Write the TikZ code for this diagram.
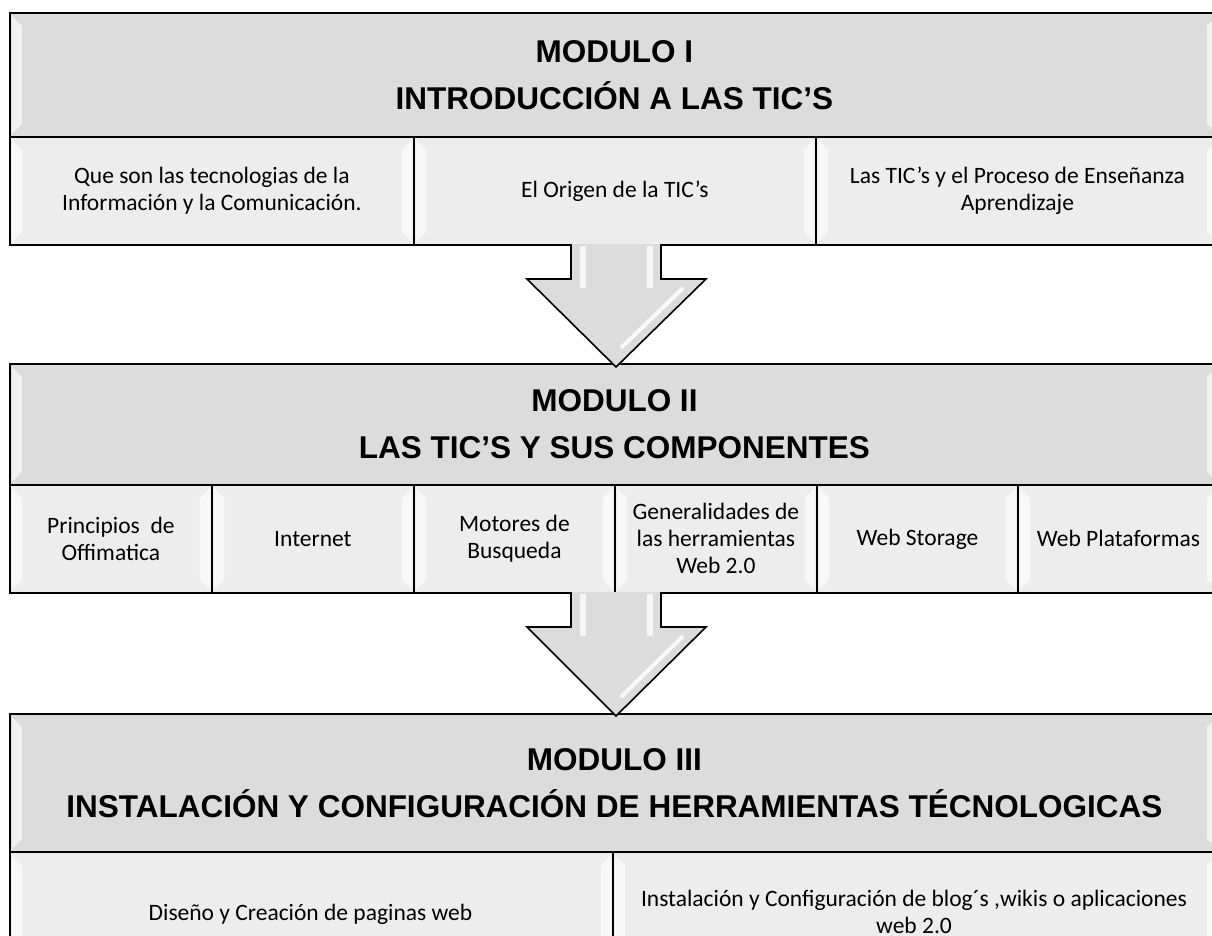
\documentclass[tikz,border=0pt]{standalone}
\usepackage{fontspec}
\setmainfont{Carlito}
\newfontfamily\hfont{Liberation Sans}
\usetikzlibrary{calc}
\definecolor{hdrgray}{RGB}{220,220,220}
\definecolor{subgray}{RGB}{237,237,237}
\newcommand\bevelbox[1]{%
  \fill[white,opacity=.65] ([shift={(3,4)}]#1.north west) -- ([shift={(13,14)}]#1.north west)
     -- ([shift={(13,-14)}]#1.south west) -- ([shift={(3,-4)}]#1.south west) -- cycle;
  \fill[white,opacity=.65] ([shift={(-3,4)}]#1.north east) -- ([shift={(-13,14)}]#1.north east)
     -- ([shift={(-13,-14)}]#1.south east) -- ([shift={(-3,-4)}]#1.south east) -- cycle;
}
\newcommand\blockarrow[2]{%
  \fill[hdrgray] ($(#1)+(-45,0)$) -- ($(#1)+(-45,35)$) -- ($(#1)+(-89,35)$) -- (#2)
     -- ($(#1)+(90,35)$) -- ($(#1)+(45,35)$) -- ($(#1)+(45,0)$) -- cycle;
  \fill[white,opacity=.75] ($(#1)+(-36,2)$) rectangle ($(#1)+(-30,44)$);
  \fill[white,opacity=.75] ($(#1)+(31,2)$) rectangle ($(#1)+(37,44)$);
  \draw[white,opacity=.85,line width=4pt,line cap=round] ($(#1)+(66,45)$) -- ($(#2)+(6,-20)$);
  \draw[arrowline] ($(#1)+(-45,0)$) -- ($(#1)+(-45,35)$) -- ($(#1)+(-89,35)$) -- (#2)
     -- ($(#1)+(90,35)$) -- ($(#1)+(45,35)$) -- ($(#1)+(45,0)$);
}
\begin{document}
\begin{tikzpicture}[x=1pt,y=-1pt,
  frame/.style={draw=black, line width=1.8pt},
  hdr/.style={frame, fill=hdrgray, anchor=north west, inner sep=0pt, align=center,
    font=\hfont\bfseries\fontsize{31.5}{47}\selectfont},
  sub/.style={frame, fill=subgray, anchor=north west, inner sep=0pt, align=center,
    font=\fontsize{23.5}{27}\selectfont},
  subtext/.style={inner sep=0pt, align=center, font=\fontsize{23.5}{27}\selectfont},
  arrowline/.style={draw=black, line width=1.6pt, line join=miter}]
\useasboundingbox (0,0) rectangle (1212,935);
\clip (0,0) rectangle (1212,935);
\fill[white] (0,0) rectangle (1212,935);

% Module I
\node[hdr, minimum width=1209pt, minimum height=124pt] (m1) at (9,12) {MODULO I\\INTRODUCCIÓN A LAS TIC’S};
\node[sub, minimum width=404pt, minimum height=108pt] (s1a) at (9,136) {Que son las tecnologias de la\\Información y la Comunicación.};
\node[sub, minimum width=402pt, minimum height=108pt] (s1b) at (413,136) {El Origen de la TIC’s};
\node[sub, minimum width=403pt, minimum height=108pt] (s1c) at (815,136) {Las TIC’s y el Proceso de Enseñanza\\Aprendizaje};

% Module II
\node[hdr, minimum width=1209pt, minimum height=121pt] (m2) at (9,363) {MODULO II\\LAS TIC’S Y SUS COMPONENTES};
\node[sub, minimum width=202pt, minimum height=108pt] (s2a) at (9,484) {Principios\ \ de\\Offimatica};
\node[sub, minimum width=202pt, minimum height=108pt] (s2b) at (211,484) {Internet};
\node[sub, minimum width=201pt, minimum height=108pt] (s2c) at (413,484) {Motores de\\Busqueda};
\node[sub, minimum width=202pt, minimum height=108pt] (s2d) at (614,484) {Generalidades de\\las herramientas\\Web 2.0};
\node[sub, minimum width=201pt, minimum height=108pt] (s2e) at (816,484) {Web Storage};
\node[sub, minimum width=201pt, minimum height=108pt] (s2f) at (1017,484) {Web Plataformas};

% Module III
\node[hdr, minimum width=1209pt, minimum height=138pt] (m3) at (9,713) {MODULO III\\INSTALACIÓN Y CONFIGURACIÓN DE HERRAMIENTAS TÉCNOLOGICAS};
\node[sub, minimum width=603pt, minimum height=130pt] (s3a) at (9,851) {};
\node[sub, minimum width=606pt, minimum height=130pt] (s3b) at (612,851) {};

\foreach \n in {m1,s1a,s1b,s1c,m2,s2a,s2b,s2c,s2d,s2e,s2f,m3,s3a,s3b}{\bevelbox{\n}}

\node[subtext] (s3at) at (310.5,914) {Diseño y Creación de paginas web};
\node[subtext] (s3bt) at (914,912) {Instalación y Configuración de blog´s ,wikis o aplicaciones\\web 2.0};

% arrows
\coordinate (a1s) at (616,244);
\coordinate (a1t) at (616,367);
\coordinate (a2s) at (616,592);
\coordinate (a2t) at (616,716);
\blockarrow{a1s}{a1t}
\blockarrow{a2s}{a2t}
\end{tikzpicture}
\end{document}
